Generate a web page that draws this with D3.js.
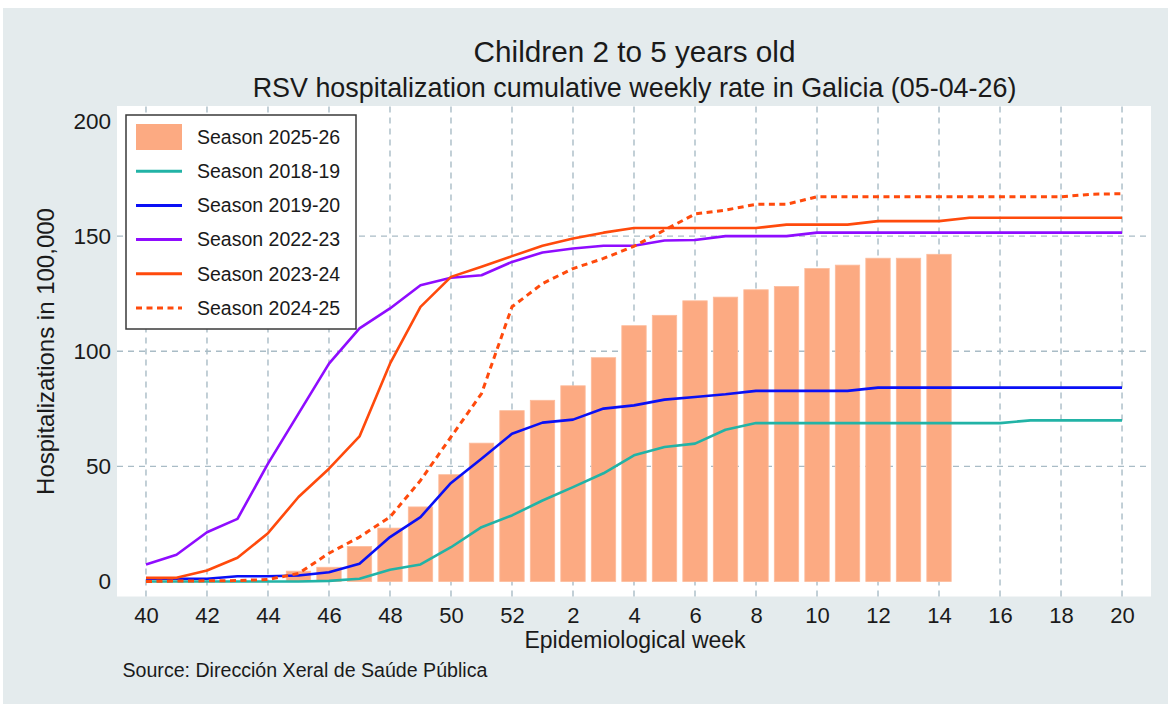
<!DOCTYPE html>
<html><head><meta charset="utf-8">
<script src="https://cdn.jsdelivr.net/npm/d3@7"></script>
<style>
body{margin:0;background:#fff}
svg{display:block}
text{font-family:"Liberation Sans",Arial,Helvetica,sans-serif;fill:#1a1a1a}
</style>
</head><body>
<svg id="c" width="1168" height="704"></svg>
<script>
// ---------- data ----------
const weeks = [40,41,42,43,44,45,46,47,48,49,50,51,52,1,2,3,4,5,6,7,8,9,10,11,12,13,14,15,16,17,18,19,20];
const tickWeeks = [40,42,44,46,48,50,52,2,4,6,8,10,12,14,16,18,20];
const yTicks = [0,50,100,150,200];

const season2526 = [0,0,0,0,0,4.5,6.2,15.2,23.2,32.4,46.4,60.1,74.2,78.7,85,97.2,111.1,115.6,121.9,123.5,126.7,128.1,135.9,137.4,140.4,140.4,142.1];
const season1819 = [0,0,0,0,0,0,0.3,1.2,5.1,7.4,14.9,23.6,28.7,35.2,41,47,54.8,58.4,59.9,65.9,68.8,68.8,68.8,68.8,68.8,68.8,68.8,68.8,68.8,70,70,70,70];
const season1920 = [1.2,1.2,1.2,2.3,2.3,2.6,4,7.7,19.3,28,42.8,53.3,64.2,69,70.3,75.1,76.5,79,80.1,81.3,82.8,82.8,82.8,82.8,84.2,84.2,84.2,84.2,84.2,84.2,84.2,84.2,84.2];
const season2223 = [7.4,11.6,21.4,27.2,51.2,72.9,94.6,109.9,118.6,128.7,131.9,133,138.8,142.9,144.6,145.8,145.8,148.1,148.3,150,150,150,151.5,151.5,151.5,151.5,151.5,151.5,151.5,151.5,151.5,151.5,151.5];
const season2324 = [1.6,1.6,4.8,10.3,21,36.7,49,63,94.6,119.3,132.3,136.7,141.3,145.8,149,151.5,153.5,153.5,153.5,153.5,153.5,155,155,155,156.5,156.5,156.5,158,158,158,158,158,158];
const season2425 = [0,0.2,0.3,0.4,0.9,3.5,12.3,19.3,28,43.9,62.8,81.6,119.3,129.4,135.9,140.3,145.6,152.6,159.6,161.3,163.8,163.8,167.1,167.1,167.1,167.1,167.1,167.1,167.1,167.1,167.1,168.2,168.4];

const lineSeries = [
  {name:"Season 2018-19", values:season1819, color:"#22b3a6", dash:null},
  {name:"Season 2019-20", values:season1920, color:"#0a10f5", dash:null},
  {name:"Season 2022-23", values:season2223, color:"#8f0cff", dash:null},
  {name:"Season 2023-24", values:season2324, color:"#ff4a0c", dash:null},
  {name:"Season 2024-25", values:season2425, color:"#ff4a0c", dash:"6,4.5"}
];
const barColor = "#fcaa82";

// ---------- layout ----------
const W = 1168, H = 704;
const svg = d3.select("#c");
svg.append("rect").attr("x",3).attr("y",8).attr("width",W-3).attr("height",H-8).attr("fill","#e4ebed");

const P = {l:117, r:1151, t:106, b:596.5};
const x = d3.scaleLinear().domain([-0.95, weeks.length - 1 + 0.95]).range([P.l, P.r]);
const y = d3.scaleLinear().domain([-6.5, 206.5]).range([P.b, P.t]);

svg.append("rect").attr("x",P.l).attr("y",P.t).attr("width",P.r-P.l).attr("height",P.b-P.t).attr("fill","#ffffff");

const tickIdx = tickWeeks.map(w => w >= 40 ? weeks.indexOf(w) : weeks.lastIndexOf(w));

// grid
const grid = svg.append("g").attr("stroke","#a9bcc6").attr("stroke-width",1.4).attr("stroke-dasharray","6,5");
grid.selectAll("line.v").data(tickIdx).join("line").attr("class","v")
  .attr("x1",d=>x(d)).attr("x2",d=>x(d)).attr("y1",P.b).attr("y2",P.t);
grid.selectAll("line.h").data([50,100,150]).join("line").attr("class","h")
  .attr("x1",P.l).attr("x2",P.r).attr("y1",d=>y(d)).attr("y2",d=>y(d));

// bars
const bw = (x(1)-x(0))*0.8;
svg.append("g").selectAll("rect").data(season2526).join("rect")
  .attr("x",(d,i)=>x(i)-bw/2).attr("width",bw)
  .attr("y",d=>y(d)).attr("height",d=>y(0)-y(d))
  .attr("fill",barColor).attr("stroke","#fdbc9c").attr("stroke-width",0.8);

// lines
const line = d3.line().x((d,i)=>x(i)).y(d=>y(d));
svg.append("g").selectAll("path").data(lineSeries).join("path")
  .attr("d",d=>line(d.values)).attr("fill","none")
  .attr("stroke",d=>d.color).attr("stroke-width",d=>d.dash?3:2.6)
  .attr("stroke-dasharray",d=>d.dash).attr("stroke-linejoin","round");

// axes
const yAxis = svg.append("g").attr("transform",`translate(${P.l},0)`)
  .call(d3.axisLeft(y).tickValues(yTicks).tickSize(0).tickPadding(6));
yAxis.select(".domain").remove();
yAxis.selectAll("text").attr("font-size",22.5).attr("fill","#1a1a1a")
  .style("font-family",'"Liberation Sans",Arial,sans-serif');

const xAxis = svg.append("g").attr("transform",`translate(0,${P.b})`)
  .call(d3.axisBottom(x).tickValues(tickIdx).tickFormat(i=>weeks[i]).tickSize(0).tickPadding(10.5));
xAxis.select(".domain").remove();
xAxis.selectAll("text").attr("font-size",22).attr("fill","#1a1a1a")
  .style("font-family",'"Liberation Sans",Arial,sans-serif');

// titles
svg.append("text").attr("x",634.5).attr("y",61.7).attr("text-anchor","middle").attr("font-size",29.7)
  .text("Children 2 to 5 years old");
svg.append("text").attr("x",634.5).attr("y",96.5).attr("text-anchor","middle").attr("font-size",26.9)
  .text("RSV hospitalization cumulative weekly rate in Galicia (05-04-26)");
svg.append("text").attr("transform","translate(53.5,351.5) rotate(-90)").attr("text-anchor","middle").attr("font-size",24)
  .text("Hospitalizations in 100,000");
svg.append("text").attr("x",635).attr("y",648).attr("text-anchor","middle").attr("font-size",23)
  .text("Epidemiological week");
svg.append("text").attr("x",122.5).attr("y",677.3).attr("font-size",19.6)
  .text("Source: Dirección Xeral de Saúde Pública");

// legend
const lg = svg.append("g");
lg.append("rect").attr("x",126).attr("y",115).attr("width",230).attr("height",214)
  .attr("fill","#fff").attr("stroke","#3a3a3a").attr("stroke-width",1.5);
const rowY = k => 137 + k*34.2;
lg.append("rect").attr("x",136).attr("y",rowY(0)-13).attr("width",46).attr("height",26).attr("fill",barColor);
lg.append("text").attr("x",197).attr("y",rowY(0)).attr("dy","0.35em").attr("font-size",19.5).text("Season 2025-26");
lineSeries.forEach((s,k)=>{
  lg.append("line").attr("x1",136).attr("x2",182).attr("y1",rowY(k+1)).attr("y2",rowY(k+1))
    .attr("stroke",s.color).attr("stroke-width",3).attr("stroke-dasharray",s.dash);
  lg.append("text").attr("x",197).attr("y",rowY(k+1)).attr("dy","0.35em").attr("font-size",19.5).text(s.name);
});
</script>
</body></html>
